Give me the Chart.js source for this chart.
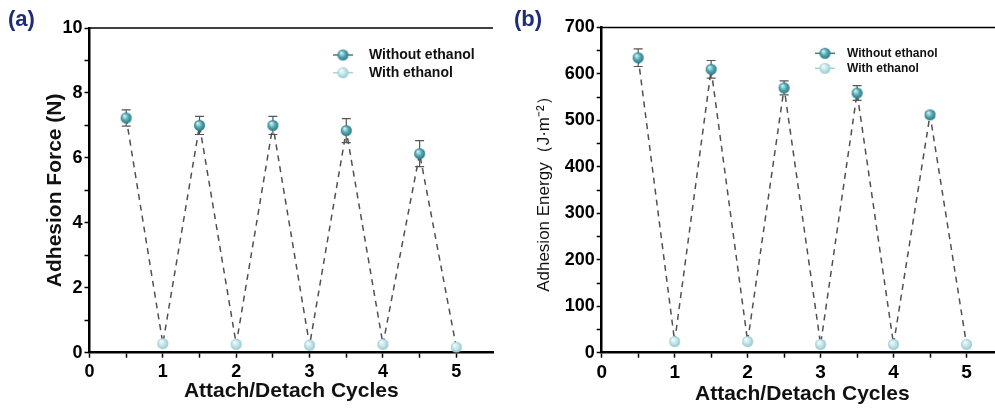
<!DOCTYPE html>
<html>
<head>
<meta charset="utf-8">
<script src="https://cdn.jsdelivr.net/npm/chart.js@4.4.1/dist/chart.umd.min.js"></script>
<style>
  html, body { margin: 0; padding: 0; background: #fff; overflow: hidden; width: 995px; height: 412px; }
  #wrap { position: relative; width: 995px; height: 412px; overflow: hidden; }
  canvas { position: absolute; top: 0; }
  #ca { left: 0; }
  #cb { left: 500px; }
</style>
</head>
<body>
<div id="wrap">
  <canvas id="ca" width="500" height="412"></canvas>
  <canvas id="cb" width="510" height="412"></canvas>
</div>
<script>
// ---------- data ----------
const cyclesWithout = [0.5, 1.5, 2.5, 3.5, 4.5];
const cyclesWith = [1, 2, 3, 4, 5];
const forceWithout = [7.23, 7.0, 7.0, 6.84, 6.13];
const forceWithoutErr = [0.25, 0.28, 0.28, 0.37, 0.4];
const forceWith = [0.28, 0.26, 0.23, 0.26, 0.17];
const forceWithErr = [0.06, 0.05, 0.05, 0.06, 0.04];
const energyWithout = [635, 610, 570, 559, 512];
const energyWithoutErr = [19, 19, 15, 16, 6];
const energyWith = [24, 24, 18, 18, 18];
const energyWithErr = [5, 5, 5, 5, 4];
const seriesLabels = ['Without ethanol', 'With ethanol'];
const xTitle = 'Attach/Detach Cycles';
const yTitleA = 'Adhesion Force (N)';
const yTitleB = 'Adhesion Energy\uFF08J\u00B7m\u207B\u00B2\uFF09';

// ---------- helpers ----------
function sphere(r, light, base, dark) {
  const c = document.createElement('canvas');
  const s = Math.ceil(r * 2 + 2);
  c.width = c.height = s;
  const g = c.getContext('2d');
  const cx = s / 2, cy = s / 2;
  const grad = g.createRadialGradient(cx - r * 0.35, cy - r * 0.4, r * 0.1, cx, cy, r);
  grad.addColorStop(0, light);
  grad.addColorStop(0.55, base);
  grad.addColorStop(1, dark);
  g.fillStyle = grad;
  g.beginPath(); g.arc(cx, cy, r, 0, Math.PI * 2); g.fill();
  return c;
}
const darkSphere = sphere(5.5, '#d4f0f2', '#4ea6b0', '#2a7985');
const lightSphere = sphere(5.5, '#f4fcfc', '#c2e4e7', '#94c9ce');

function toPts(xs, ys) { return xs.map((x, i) => ({ x: x, y: ys[i] })); }
function zigzag(xa, ya, xb, yb) {
  return toPts(xa, ya).concat(toPts(xb, yb)).sort((p, q) => p.x - q.x);
}

const FONT = "'Liberation Sans', Arial, sans-serif";

const errorBars = {
  id: 'errorBars',
  beforeDatasetDraw(chart, args) {
    const ds = chart.data.datasets[args.index];
    if (!ds.errors) return;
    const ctx = chart.ctx, y = chart.scales.y;
    const meta = args.meta;
    ctx.save();
    ctx.strokeStyle = ds.errorColor;
    ctx.lineWidth = 1.2;
    ds.data.forEach((p, i) => {
      const el = meta.data[i];
      const e = ds.errors[i];
      const yt = y.getPixelForValue(p.y + e), yb = y.getPixelForValue(p.y - e);
      const x = el.x;
      ctx.beginPath();
      ctx.moveTo(x, yt); ctx.lineTo(x, yb);
      ctx.moveTo(x - 4.5, yt); ctx.lineTo(x + 4.5, yt);
      ctx.moveTo(x - 4.5, yb); ctx.lineTo(x + 4.5, yb);
      ctx.stroke();
    });
    ctx.restore();
  }
};

const frame = {
  id: 'frame',
  afterDraw(chart, args, opts) {
    const ctx = chart.ctx, a = chart.chartArea;
    ctx.save();
    // top border
    ctx.strokeStyle = '#000';
    ctx.lineWidth = 1.5;
    ctx.beginPath(); ctx.moveTo(a.left, a.top); ctx.lineTo(a.right, a.top); ctx.stroke();
    // panel label
    ctx.fillStyle = '#1f2b7b';
    ctx.font = 'bold 22px ' + FONT;
    ctx.textBaseline = 'middle';
    ctx.textAlign = 'left';
    ctx.fillText(opts.panel, opts.panelX, 20);
    // legend
    const L = opts.legend;
    ctx.font = 'bold ' + L.size + 'px ' + FONT;
    chart.data.datasets.forEach((ds, i) => {
      if (!ds.legend) return;
      const yy = L.y + (i - 1) * L.gap;
      ctx.strokeStyle = ds.legendLine;
      ctx.lineWidth = 1.5;
      ctx.beginPath(); ctx.moveTo(L.x, yy); ctx.lineTo(L.x + 20, yy); ctx.stroke();
      const img = ds.pointStyle;
      ctx.drawImage(img, L.x + 10 - img.width / 2, yy - img.height / 2);
      ctx.fillStyle = '#111';
      ctx.fillText(ds.label, L.textX, yy + 0.5);
    });
    ctx.restore();
  }
};

function makeChart(id, cfg) {
  const datasets = [
    {
      type: 'line', label: '', data: zigzag(cyclesWithout, cfg.ya, cyclesWith, cfg.yb),
      borderColor: '#505050', borderWidth: 1.5, borderDash: [6, 5], pointRadius: 0,
      fill: false, tension: 0, order: 3
    },
    {
      label: seriesLabels[0], data: toPts(cyclesWithout, cfg.ya), errors: cfg.ea,
      errorColor: '#555', pointStyle: darkSphere, pointRadius: 6, showLine: false,
      legend: true, legendLine: '#3c7f88', order: 1
    },
    {
      label: seriesLabels[1], data: toPts(cyclesWith, cfg.yb), errors: cfg.eb,
      errorColor: '#7d9fa3', pointStyle: lightSphere, pointRadius: 6, showLine: false,
      legend: true, legendLine: '#a9d3d7', order: 2
    }
  ];
  return new Chart(document.getElementById(id), {
    type: 'scatter',
    data: { datasets },
    plugins: [errorBars, frame],
    options: {
      responsive: false, animation: false,
      layout: { padding: { left: 0, right: cfg.padRight, top: cfg.top, bottom: 0 } },
      plugins: {
        legend: { display: false }, tooltip: { enabled: false },
        frame: { panel: cfg.panel, panelX: cfg.panelX, legend: cfg.legend }
      },
      scales: {
        x: {
          type: 'linear', min: 0, max: 5.5,
          afterFit(s) { s.height = cfg.xH; },
          border: { display: true, color: '#000', width: 2.5 },
          grid: {
            drawOnChartArea: false, drawTicks: true, tickLength: 5, tickWidth: 1.5,
            tickColor: c => (c.tick && c.tick.value === 5.5) ? 'rgba(0,0,0,0)' : '#000'
          },
          ticks: {
            stepSize: 0.5, autoSkip: false, maxRotation: 0, color: '#000', padding: 4,
            font: { family: FONT, size: cfg.xTickSize, weight: 'bold' },
            callback: v => Number.isInteger(v) && v <= 5 ? String(v) : ''
          },
          title: {
            display: true, text: xTitle, color: '#111',
            font: { family: FONT, size: 21, weight: 'bold' },
            padding: { top: 0, bottom: cfg.xTitlePad }
          }
        },
        y: {
          min: 0, max: cfg.ymax,
          afterFit(s) { s.width = cfg.yW; },
          border: { display: true, color: '#000', width: 2.5 },
          grid: { drawOnChartArea: false, drawTicks: true, tickLength: 5, tickWidth: 1.5, tickColor: '#000' },
          ticks: {
            stepSize: cfg.minor, autoSkip: false, color: '#000', padding: 2,
            font: { family: FONT, size: 18, weight: 'bold' },
            callback: v => (Math.round(v / cfg.major) * cfg.major === v) ? String(v) : ''
          },
          title: {
            display: true, text: cfg.yTitle, color: '#111',
            font: { family: FONT, size: cfg.yTitleSize, weight: cfg.yTitleWeight },
            padding: { top: cfg.yTitlePad, bottom: 0 }
          }
        }
      }
    }
  });
}

makeChart('ca', {
  ya: forceWithout, ea: forceWithoutErr, yb: forceWith, eb: forceWithErr,
  ymax: 10, minor: 1, major: 2, top: 28, yW: 89.5, xH: 412 - 352.7, padRight: 7,
  xTickSize: 18, xTitlePad: 8, yTitle: yTitleA, yTitleSize: 21, yTitleWeight: 'bold', yTitlePad: 43,
  panel: '(a)', panelX: 8,
  legend: { x: 333, textX: 369, y: 55, gap: 17.7, size: 14 }
});

makeChart('cb', {
  ya: energyWithout, ea: energyWithoutErr, yb: energyWith, eb: energyWithErr,
  ymax: 700, minor: 50, major: 100, top: 27.5, yW: 101.7, xH: 412 - 352.7, padRight: 4.3,
  xTickSize: 19, xTitlePad: 5, yTitle: yTitleB, yTitleSize: 17, yTitleWeight: 'normal', yTitlePad: 34,
  panel: '(b)', panelX: 14,
  legend: { x: 315, textX: 347, y: 53.3, gap: 15, size: 12 }
});
</script>
</body>
</html>
